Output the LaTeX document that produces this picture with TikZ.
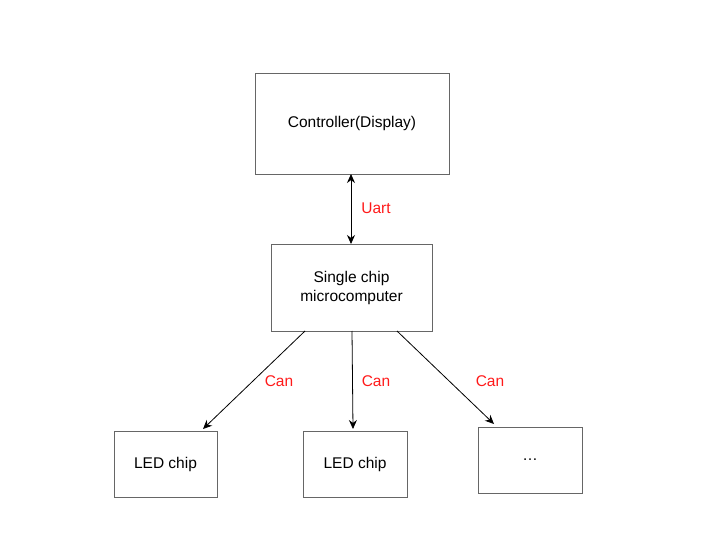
\documentclass[tikz,border=0pt]{standalone}
\usepackage{fontspec}
\setmainfont{Liberation Sans}
\usetikzlibrary{arrows.meta}
\definecolor{boxgray}{HTML}{666666}
\definecolor{lblred}{HTML}{FF1A1A}
\tikzset{
  box/.style={draw=boxgray, line width=0.8pt, fill=white, minimum width=#1, inner sep=0pt, align=center, font=\fontsize{15.5}{19}\selectfont},
  box/.default={104pt},
  conn/.style={draw=black, line width=0.8pt, -{Stealth[length=9pt,width=8pt]}},
  lbl/.style={text=lblred, font=\fontsize{15.5}{19}\selectfont, inner sep=0pt}
}
\begin{document}
\begin{tikzpicture}[x=1pt,y=-1pt]
\useasboundingbox (0,0) rectangle (722,553);
\node[box=194pt, minimum height=101pt] (ctrl) at (352,123.5) {Controller(Display)};
\node[box=161pt, minimum height=87pt] (mcu) at (351.5,287.5) {Single chip\\microcomputer};
\node[box=103pt, minimum height=66pt] (led1) at (165.5,464) {LED chip};
\node[box=104pt, minimum height=66pt] (led2) at (355,464) {LED chip};
\node[box=104pt, minimum height=66pt] (more) at (530,460) {\dots};
\coordinate (u1) at (351,174);
\coordinate (u2) at (351,244);
\draw[conn, {Stealth[length=9pt,width=8pt]}-{Stealth[length=9pt,width=8pt]}] (u1) -- (u2);
\coordinate (a1) at (305,331);
\coordinate (b1) at (203,429);
\coordinate (a2) at (352,331);
\coordinate (b2) at (353,429);
\coordinate (a3) at (397,331);
\coordinate (b3) at (494,424);
\draw[conn] (a1) -- (b1);
\draw[conn] (a2) -- (b2);
\draw[conn] (a3) -- (b3);
\node[lbl] (uart) at (376,208) {Uart};
\node[lbl] (can1) at (279,381) {Can};
\node[lbl] (can2) at (376,381) {Can};
\node[lbl] (can3) at (490,381) {Can};
\end{tikzpicture}
\end{document}
